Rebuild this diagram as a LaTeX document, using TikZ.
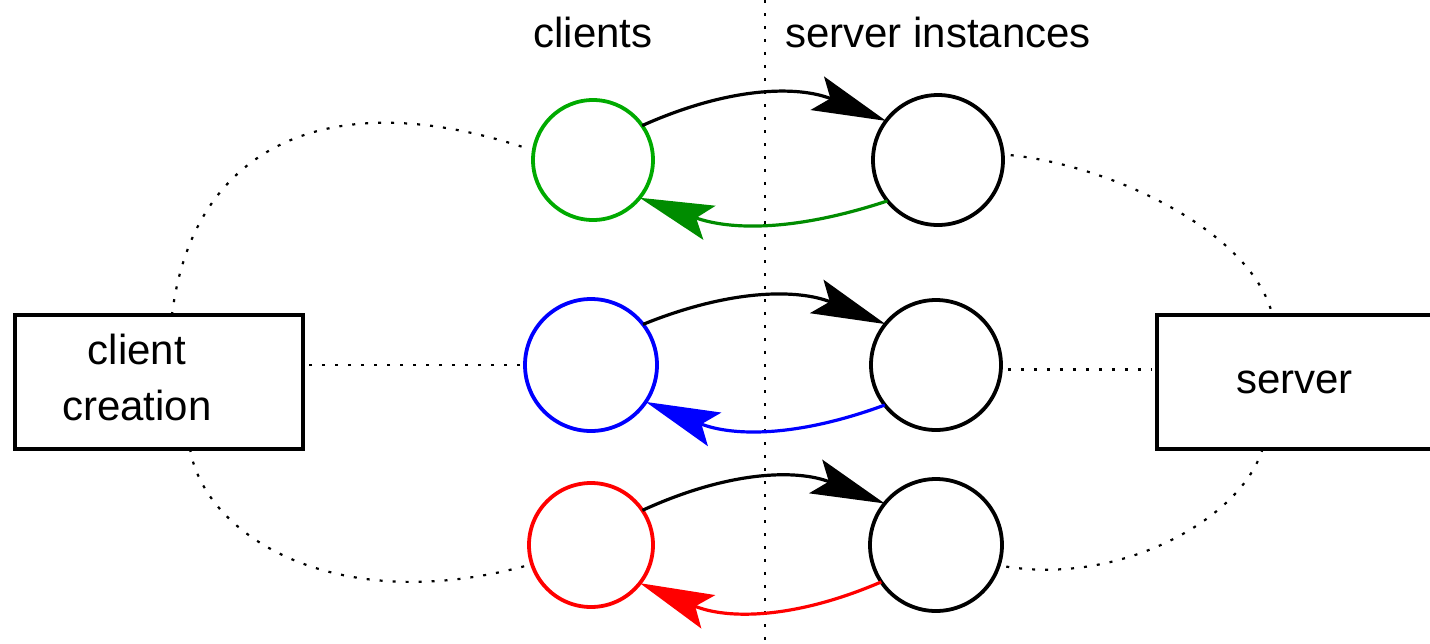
\documentclass[tikz,border=0pt]{standalone}
\usepackage{fontspec}
\setmainfont{Liberation Sans}
\usetikzlibrary{arrows.meta,calc}
\definecolor{cgreen}{RGB}{0,170,0}
\definecolor{agreen}{RGB}{0,140,0}
\begin{document}
\begin{tikzpicture}[x=0.5pt,y=-0.5pt,
  every node/.style={font=\fontsize{21}{28}\selectfont},
  proc/.style={circle,draw,line width=1.9pt,inner sep=0pt,outer sep=0pt},
  box/.style={rectangle,draw,line width=1.9pt,minimum height=67pt,inner sep=0pt,outer sep=0pt},
  msg/.style={line width=1.6pt,-{Stealth[length=37pt,width=18pt,inset=7pt]}},
  dots/.style={line width=1.1pt,dash pattern=on 1.5pt off 5pt}]
\useasboundingbox (0,0) rectangle (1430,643);
% dividing line
\draw[dots] (765,0) -- (765,643);
% labels
\node (lc) at (593,32) {clients};
\node (ls) at (938,32) {server instances};
% boxes
\node[box,minimum width=144pt] (cc) at (159,382) {};
\node[align=center] (cct) at ($(cc.center)+(-22,-5)$) {client\\creation};
\node[box,minimum width=137.5pt] (sb) at (1294.5,382) {server};
% circles
\node[proc,draw=cgreen,minimum size=60pt] (g) at (593,160) {};
\node[proc,minimum size=65pt] (s1) at (938,160) {};
\node[proc,draw=blue,minimum size=66pt] (b) at (591,365) {};
\node[proc,minimum size=65pt] (s2) at (936,365) {};
\node[proc,draw=red,minimum size=62pt] (r) at (591,545) {};
\node[proc,minimum size=66pt] (s3) at (936,545) {};
% messages
\draw[msg] (g.35) to[bend left=23] (s1.143);
\draw[msg,agreen] (s1.219) to[bend left=19] (g.321);
\draw[msg] (b.38) to[bend left=22] (s2.141);
\draw[msg,blue] (s2.218) to[bend left=21] (b.326);
\draw[msg] (r.34) to[bend left=23] (s3.141);
\draw[msg,red] (s3.214) to[bend left=23] (r.322);
% dotted links
\draw[dots,shorten <=2.5pt,shorten >=2.5pt] (b.west) -- (b.west -| cc.east);
\draw[dots,shorten <=3.5pt,shorten >=2.5pt] (s2.-4) -- (s2.-4 -| sb.west);
\draw[dots,shorten >=3pt] ($(cc.north)+(13,0)$) .. controls +(20,-165) and +(-210,-70) .. (g.171);
\draw[dots,shorten >=3pt] ($(cc.south)+(31,0)$) .. controls +(15,88) and +(-195,53) .. (r.198);
\draw[dots,shorten <=4pt] (s1.5) .. controls +(107,11) and +(-22,-85) .. ($(sb.north)+(-22,0)$);
\draw[dots,shorten >=3pt] ($(sb.south)+(-32,0)$) .. controls +(-22,71) and +(121,20) .. (s3.-18);
\end{tikzpicture}
\end{document}
